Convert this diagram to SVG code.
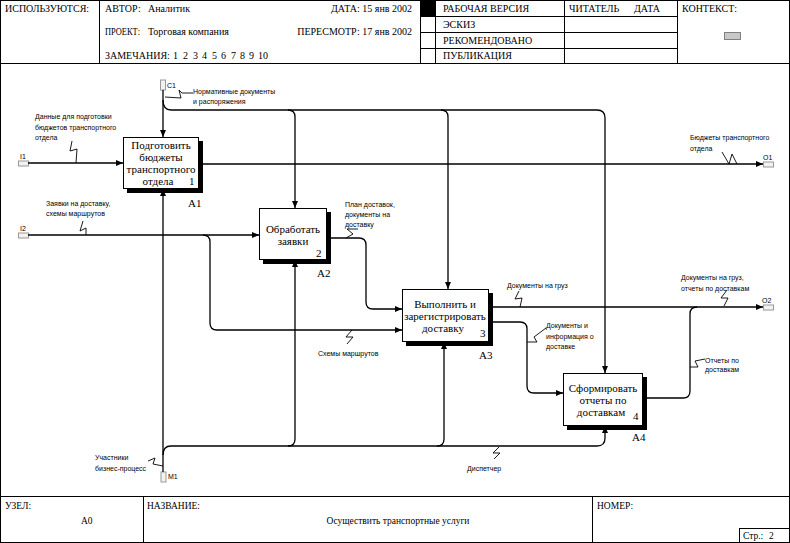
<svg xmlns="http://www.w3.org/2000/svg" width="790" height="543" viewBox="0 0 790 543">
<defs>
<marker id="ah" markerUnits="userSpaceOnUse" markerWidth="8" markerHeight="7" refX="7" refY="3.5" orient="auto">
<path d="M0,0.5 L7,3.5 L0,6.5 z" fill="#000"/>
</marker>
<style>
.fr{fill:none;stroke:#000;stroke-width:1}
.hd{font-family:"Liberation Serif",serif;font-size:10px;fill:#000}
.ft{font-family:"Liberation Serif",serif;font-size:9.5px;fill:#000}
.bx{font-family:"Liberation Serif",serif;font-size:11px;fill:#000;text-anchor:middle}
.nm{font-family:"Liberation Serif",serif;font-size:11px;fill:#000}
.lb{font-family:"Liberation Sans",sans-serif;font-size:7px;fill:#000}
.tl{font-family:"Liberation Sans",sans-serif;font-size:7px;fill:#000}
.ar{fill:none;stroke:#000;stroke-width:1.3}
.sq{fill:none;stroke:#000;stroke-width:0.9}
.tn{fill:#f2f2f2;stroke:#999;stroke-width:1}
.box{fill:#fff;stroke:#000;stroke-width:1}
</style>
</defs>
<rect width="790" height="543" fill="#fff"/>
<g id="frame">
<rect class="fr" x="0.5" y="0.5" width="789" height="542"/>
<line class="fr" x1="0" y1="63.5" x2="790" y2="63.5"/>
<line class="fr" x1="0" y1="496.5" x2="790" y2="496.5"/>
<line class="fr" x1="99.5" y1="0" x2="99.5" y2="63"/>
<line class="fr" x1="420.5" y1="0" x2="420.5" y2="63"/>
<line class="fr" x1="435.5" y1="0" x2="435.5" y2="63"/>
<line class="fr" x1="564.5" y1="0" x2="564.5" y2="63"/>
<line class="fr" x1="677.5" y1="0" x2="677.5" y2="63"/>
<line class="fr" x1="420" y1="16.5" x2="677" y2="16.5"/>
<line class="fr" x1="420" y1="32.5" x2="677" y2="32.5"/>
<line class="fr" x1="420" y1="48.5" x2="677" y2="48.5"/>
<rect x="420" y="0" width="15" height="16" fill="#000"/>
<rect x="724.5" y="32.5" width="16" height="7" fill="#c8c8c8" stroke="#808080"/>
<line class="fr" x1="143.5" y1="496" x2="143.5" y2="543"/>
<line class="fr" x1="592.5" y1="496" x2="592.5" y2="543"/>
<rect class="fr" x="739.5" y="528.5" width="50" height="14"/>
<text class="hd" x="5" y="12">ИСПОЛЬЗУЮТСЯ:</text>
<text class="hd" x="105" y="12">АВТОР:</text>
<text class="hd" x="148" y="12">Аналитик</text>
<text class="hd" x="412" y="12" text-anchor="end">ДАТА: 15 янв 2002</text>
<text class="hd" x="105" y="35" textLength="35" lengthAdjust="spacingAndGlyphs">ПРОЕКТ:</text>
<text class="hd" x="148" y="35">Торговая компания</text>
<text class="hd" x="412" y="35" text-anchor="end">ПЕРЕСМОТР: 17 янв 2002</text>
<text class="hd" x="105" y="59">ЗАМЕЧАНИЯ:</text>
<text class="hd" y="59"><tspan x="173">1</tspan><tspan x="183">2</tspan><tspan x="193">3</tspan><tspan x="202">4</tspan><tspan x="212">5</tspan><tspan x="221">6</tspan><tspan x="231">7</tspan><tspan x="240">8</tspan><tspan x="249">9</tspan><tspan x="258">10</tspan></text>
<text class="hd" x="443" y="12">РАБОЧАЯ ВЕРСИЯ</text>
<text class="hd" x="443" y="28">ЭСКИЗ</text>
<text class="hd" x="443" y="44">РЕКОМЕНДОВАНО</text>
<text class="hd" x="443" y="59">ПУБЛИКАЦИЯ</text>
<text class="hd" x="569" y="12">ЧИТАТЕЛЬ</text>
<text class="hd" x="634" y="12">ДАТА</text>
<text class="hd" x="682" y="12">КОНТЕКСТ:</text>
<text class="ft" x="5" y="509">УЗЕЛ:</text>
<text class="ft" x="81" y="524">А0</text>
<text class="ft" x="147" y="509">НАЗВАНИЕ:</text>
<text class="ft" x="398" y="524" text-anchor="middle">Осуществить транспортные услуги</text>
<text class="ft" x="597" y="509">НОМЕР:</text>
<text class="ft" x="743" y="539">Стр.:</text>
<text class="ft" x="769" y="539">2</text>
</g>
<g id="A1">
<rect x="127" y="141" width="76" height="52" fill="#000"/>
<rect class="box" x="123.5" y="137.5" width="75" height="51"/>
<text class="bx" x="161" y="149">Подготовить</text>
<text class="bx" x="161" y="161">бюджеты</text>
<text class="bx" x="161" y="173">транспортного</text>
<text class="bx" x="158" y="185">отдела</text>
<text class="nm" x="189" y="185">1</text>
<text class="nm" x="188" y="207">А1</text>
</g>
<g id="A2">
<rect x="263" y="212" width="68" height="52" fill="#000"/>
<rect class="box" x="259.5" y="208.5" width="67" height="51"/>
<text class="bx" x="293" y="233">Обработать</text>
<text class="bx" x="293" y="245">заявки</text>
<text class="nm" x="316" y="257">2</text>
<text class="nm" x="317" y="277">А2</text>
</g>
<g id="A3">
<rect x="406" y="293" width="87" height="53" fill="#000"/>
<rect class="box" x="402.5" y="289.5" width="86" height="52"/>
<text class="bx" x="445" y="308">Выполнить и</text>
<text class="bx" x="445" y="320">зарегистрировать</text>
<text class="bx" x="443" y="332">доставку</text>
<text class="nm" x="480" y="337">3</text>
<text class="nm" x="479" y="359">А3</text>
</g>
<g id="A4">
<rect x="567" y="377" width="80" height="53" fill="#000"/>
<rect class="box" x="563.5" y="373.5" width="79" height="52"/>
<text class="bx" x="603" y="392">Сформировать</text>
<text class="bx" x="603" y="404">отчеты по</text>
<text class="bx" x="601" y="416">доставкам</text>
<text class="nm" x="633" y="420">4</text>
<text class="nm" x="632" y="441">А4</text>
</g>
<g id="connectors">
<rect class="tn" x="18.5" y="161" width="10" height="5"/>
<rect class="tn" x="18.5" y="233" width="10" height="5"/>
<rect class="tn" x="763.5" y="162" width="10" height="5"/>
<rect class="tn" x="763.5" y="305" width="10" height="5"/>
<rect class="tn" x="160.5" y="80" width="5" height="10"/>
<rect class="tn" x="161" y="472" width="5" height="10"/>
<text class="tl" x="20" y="159">I1</text>
<text class="tl" x="20" y="231">I2</text>
<text class="tl" x="167" y="88">C1</text>
<text class="tl" x="763" y="160">O1</text>
<text class="tl" x="762" y="303">O2</text>
<text class="tl" x="168" y="479">M1</text>
<path class="ar" d="M163,90 L163,137" marker-end="url(#ah)"/>
<path class="ar" d="M163,100 Q163,110 171,110 L597,110 Q605,110 605,118 L605,373" marker-end="url(#ah)"/>
<path class="ar" d="M288,110 Q295,110 295,117 L295,208" marker-end="url(#ah)"/>
<path class="ar" d="M441,110 Q448,110 448,117 L448,289" marker-end="url(#ah)"/>
<path class="ar" d="M28,163 L123,163" marker-end="url(#ah)"/>
<path class="ar" d="M199,164 L763,164" marker-end="url(#ah)"/>
<path class="ar" d="M28,235 L259,235" marker-end="url(#ah)"/>
<path class="ar" d="M203,235 Q210,235 210,242 L210,323 Q210,330 217,330 L402,330" marker-end="url(#ah)"/>
<path class="ar" d="M327,238 L359,238 Q366,238 366,245 L366,302 Q366,309 373,309 L402,309" marker-end="url(#ah)"/>
<path class="ar" d="M163,472 L163,189" marker-end="url(#ah)"/>
<path class="ar" d="M163,455 Q163,446 171,446 L597,446 Q605,446 605,438 L605,426" marker-end="url(#ah)"/>
<path class="ar" d="M288,446 Q295,446 295,439 L295,260" marker-end="url(#ah)"/>
<path class="ar" d="M437,446 Q444,446 444,439 L444,342" marker-end="url(#ah)"/>
<path class="ar" d="M489,307 L763,307" marker-end="url(#ah)"/>
<path class="ar" d="M489,322 L520,322 Q527,322 527,329 L527,386 Q527,393 534,393 L563,393" marker-end="url(#ah)"/>
<path class="ar" d="M643,398 L683,398 Q690,398 690,391 L690,314 Q690,307 697,307"/>
<path class="sq" d="M193,93 L182,93 L179,90 L181,98 L165,97"/>
<path class="sq" d="M72,141 L70,151 L77,149 L76,163"/>
<path class="sq" d="M83,221 L80,231 L86,228 L86,235"/>
<path class="sq" d="M358,229 L347,229 L353,234 L346,238"/>
<path class="sq" d="M347,344 L353,337 L346,337 L352,330"/>
<path class="sq" d="M519,291 L515,299 L522,298 L520,307"/>
<path class="sq" d="M527,342 L537,342 L534,337 L546,328"/>
<path class="sq" d="M722,152 L729,164 L732,154 L737,164"/>
<path class="sq" d="M727,290 L721,298 L728,298 L724,306"/>
<path class="sq" d="M690,367 L698,367 L695,361 L705,359"/>
<path class="sq" d="M148,461 L155,458 L153,464 L163,466"/>
<path class="sq" d="M499,447 L493,453 L500,453 L494,459"/>
<text class="lb" x="193" y="94">Нормативные документы</text>
<text class="lb" x="193" y="104">и распоряжения</text>
<text class="lb" x="35" y="119">Данные для подготовки</text>
<text class="lb" x="35" y="130">бюджетов транспортного</text>
<text class="lb" x="35" y="140">отдела</text>
<text class="lb" x="690" y="140">Бюджеты транспортного</text>
<text class="lb" x="690" y="151">отдела</text>
<text class="lb" x="46" y="206">Заявки на доставку,</text>
<text class="lb" x="46" y="216">схемы маршрутов</text>
<text class="lb" x="345" y="207">План доставок,</text>
<text class="lb" x="345" y="217">документы на</text>
<text class="lb" x="345" y="227">доставку</text>
<text class="lb" x="507" y="288">Документы на груз</text>
<text class="lb" x="681" y="280">Документы на груз,</text>
<text class="lb" x="681" y="291">отчеты по доставкам</text>
<text class="lb" x="546" y="328">Документы и</text>
<text class="lb" x="546" y="339">информация о</text>
<text class="lb" x="546" y="349">доставке</text>
<text class="lb" x="705" y="363">Отчеты по</text>
<text class="lb" x="705" y="372">доставкам</text>
<text class="lb" x="318" y="356">Схемы маршрутов</text>
<text class="lb" x="95" y="460">Участники</text>
<text class="lb" x="95" y="471">бизнес-процесс</text>
<text class="lb" x="467" y="471">Диспетчер</text>
</g>
</svg>
